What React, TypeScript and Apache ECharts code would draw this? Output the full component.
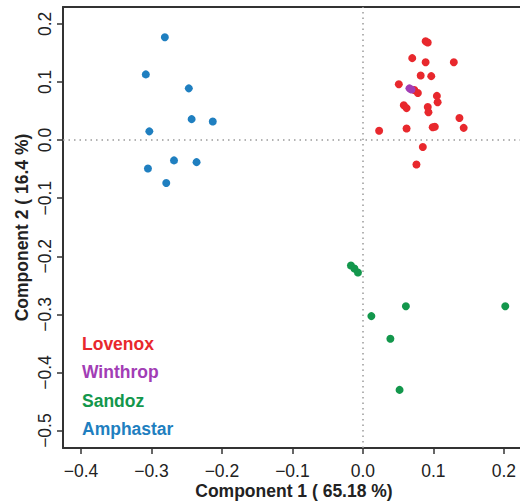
import React, { useEffect, useRef } from "react";
import * as echarts from "echarts";

const groupNames = ["Lovenox", "Winthrop", "Sandoz", "Amphastar"];
const groupColors = ["#e8282d", "#a23db5", "#13974c", "#1f7fc0"];

const lovenox: number[][] = [
  [0.089, 0.170], [0.092, 0.168], [0.070, 0.141], [0.089, 0.134], [0.129, 0.134],
  [0.082, 0.111], [0.097, 0.110], [0.051, 0.096], [0.073, 0.086], [0.078, 0.081],
  [0.105, 0.076], [0.106, 0.065], [0.058, 0.060], [0.062, 0.055], [0.092, 0.057],
  [0.093, 0.048], [0.137, 0.038], [0.023, 0.016], [0.062, 0.020], [0.099, 0.022],
  [0.102, 0.023], [0.143, 0.021], [0.085, -0.012], [0.076, -0.042],
];
const winthrop: number[][] = [
  [0.066, 0.089], [0.069, 0.087],
];
const sandoz: number[][] = [
  [-0.017, -0.216], [-0.012, -0.221], [-0.007, -0.228], [0.061, -0.286],
  [0.202, -0.286], [0.012, -0.303], [0.039, -0.342], [0.052, -0.430],
];
const amphastar: number[][] = [
  [-0.281, 0.177], [-0.308, 0.113], [-0.247, 0.089], [-0.243, 0.036], [-0.213, 0.032],
  [-0.303, 0.015], [-0.268, -0.035], [-0.236, -0.038], [-0.305, -0.049], [-0.279, -0.074],
];

const xTicks = [-0.4, -0.3, -0.2, -0.1, 0.0, 0.1, 0.2];
const yTicks = [-0.5, -0.4, -0.3, -0.2, -0.1, 0.0, 0.1, 0.2];
const xName = "Component 1 ( 65.18 %)";
const yName = "Component 2 ( 16.4 %)";

const FONT = "'Liberation Sans', Arial, Helvetica, sans-serif";

const fmt = (v: number) => (v < -1e-9 ? "\u2212" : "") + Math.abs(v).toFixed(1);

export default function App() {
  const ref = useRef<HTMLDivElement>(null);
  useEffect(() => {
    if (!ref.current) return;
    const chart = echarts.init(ref.current, null, { renderer: "svg" });
    const groups = [lovenox, winthrop, sandoz, amphastar];
    const order = [3, 2, 0, 1];
    const series: any[] = order.map((gi) => ({
      name: groupNames[gi],
      type: "scatter",
      data: groups[gi],
      symbolSize: 8,
      itemStyle: { color: groupColors[gi], opacity: 1 },
      z: 3,
    }));
    series.push({
      type: "scatter",
      data: [],
      silent: true,
      z: 1,
      markLine: {
        silent: true,
        symbol: "none",
        label: { show: false },
        lineStyle: { color: "#9a9a9a", type: [1.5, 4], width: 1.5 },
        data: [{ xAxis: 0 }, { yAxis: 0 }],
      },
    });
    const frameLine = { show: true, onZero: false, lineStyle: { color: "#333333", width: 2 } };
    chart.setOption({
      animation: false,
      backgroundColor: "#ffffff",
      grid: {
        left: 63,
        top: 7,
        right: -5,
        bottom: 56,
        containLabel: false,
        outerBoundsMode: "none",
      },
      xAxis: [
        {
          type: "value",
          position: "bottom",
          min: -0.4255,
          max: 0.23,
          splitLine: { show: false },
          axisLine: frameLine,
          axisTick: {
            show: true,
            length: 6,
            inside: false,
            customValues: xTicks,
            lineStyle: { color: "#333", width: 1.5 },
          },
          axisLabel: {
            customValues: xTicks,
            formatter: fmt,
            margin: 14,
            fontSize: 17.5,
            lineHeight: 18,
            color: "#222",
            fontFamily: FONT,
          },
          name: xName,
          nameLocation: "middle",
          nameGap: 34,
          nameMoveOverlap: false,
          nameTextStyle: { fontSize: 17.5, lineHeight: 18, fontWeight: "bold", color: "#222", fontFamily: FONT },
        },
        {
          type: "value",
          position: "top",
          min: -0.4255,
          max: 0.23,
          splitLine: { show: false },
          axisLine: frameLine,
          axisTick: { show: false },
          axisLabel: { show: false },
        },
      ],
      yAxis: {
        type: "value",
        min: -0.53,
        max: 0.229,
        splitLine: { show: false },
        axisLine: frameLine,
        axisTick: {
          show: true,
          length: 6,
          inside: false,
          customValues: yTicks,
          lineStyle: { color: "#333", width: 1.5 },
        },
        axisLabel: {
          customValues: yTicks,
          formatter: fmt,
          rotate: 90,
          margin: 9,
          fontSize: 17.5,
          color: "#222",
          fontFamily: FONT,
        },
        name: yName,
        nameLocation: "middle",
        nameRotate: 90,
        nameGap: 32,
        nameMoveOverlap: false,
        nameTextStyle: { fontSize: 17.5, fontWeight: "bold", color: "#222", fontFamily: FONT },
      },
      graphic: groupNames.map((n, i) => ({
        type: "text",
        left: 82,
        top: 335 + i * 28.3,
        style: {
          text: n,
          fill: groupColors[i],
          font: `bold 17.5px ${FONT}`,
        },
      })),
      series,
    });
    return () => chart.dispose();
  }, []);
  return (
    <div
      ref={ref}
      style={{ position: "fixed", left: 0, top: 0, width: 520, height: 504 }}
    />
  );
}
